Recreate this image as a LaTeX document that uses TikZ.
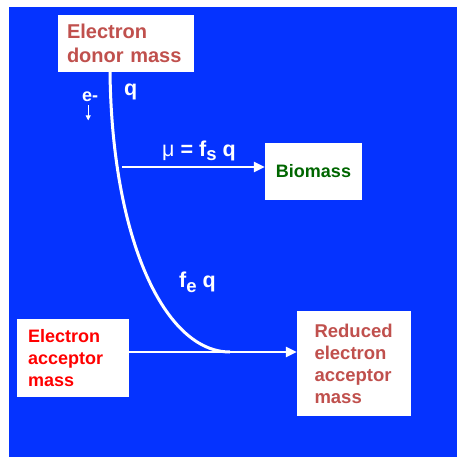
\documentclass[tikz,border=0pt]{standalone}
\usepackage{fontspec}
\setmainfont{Liberation Sans}
\usetikzlibrary{arrows.meta}
\definecolor{slideblue}{RGB}{5,51,255}
\definecolor{donorred}{RGB}{192,80,77}
\definecolor{biogreen}{RGB}{0,102,0}
\tikzset{
  box/.style={fill=white, inner sep=0pt, align=left},
  flow/.style={white, line width=2.5pt, -{Triangle[length=11pt,width=10pt]}},
  lbl/.style={white, font=\fontsize{21.5}{24}\selectfont\bfseries, inner sep=0pt, anchor=base west}
}
\begin{document}
\begin{tikzpicture}[x=1pt,y=-1pt]
\useasboundingbox (0,0) rectangle (457,457);
\fill[slideblue] (9,7) rectangle (457,457);

\node[box, minimum width=136pt, minimum height=57pt, text width=118pt, text=donorred,
  font=\fontsize{20}{24}\selectfont\bfseries] (donor) at (126,43.5) {Electron\\donor mass};
\node[box, minimum width=97pt, minimum height=57pt, align=center, text=biogreen,
  font=\fontsize{18}{22}\selectfont\bfseries] (biomass) at (313.5,171.5) {Biomass};
\node[box, minimum width=112pt, minimum height=78pt, text width=90pt, text=red,
  font=\fontsize{18}{22}\selectfont\bfseries] (acceptor) at (73,358) {Electron\\acceptor\\mass};
\node[box, minimum width=114pt, minimum height=105pt, text width=79pt, text=donorred,
  font=\fontsize{18.5}{22}\selectfont\bfseries] (reduced) at (354,363.5) {Reduced\\electron\\acceptor\\mass};

\coordinate (branch) at (122,167);
\coordinate (sink) at (230,352);
\draw[white, line width=3pt] ([xshift=-16pt]donor.south) .. controls (112,240) and (165,352) .. (sink);
\draw[flow] (branch) -- ([yshift=4.5pt]biomass.west);
\draw[flow] ([yshift=6pt]acceptor.east) -- ([yshift=11.5pt]reduced.west);

\node[lbl] (q) at (124,96) {q};
\node[lbl, font=\fontsize{18}{20}\selectfont\bfseries] (eminus) at (82,102) {e-};
\draw[white, line width=1pt, -{Triangle[length=5pt,width=5pt]}] ([xshift=-2pt,yshift=-3pt]eminus.south) -- ++(0,15);
\node[lbl] (mu) at (162,157) {{\mdseries μ} = f\raisebox{-4pt}{\fontsize{18.5}{20}\selectfont s} q};
\node[lbl] (fe) at (179,287) {f\raisebox{-5pt}{\fontsize{18.5}{20}\selectfont e} q};
\end{tikzpicture}
\end{document}
